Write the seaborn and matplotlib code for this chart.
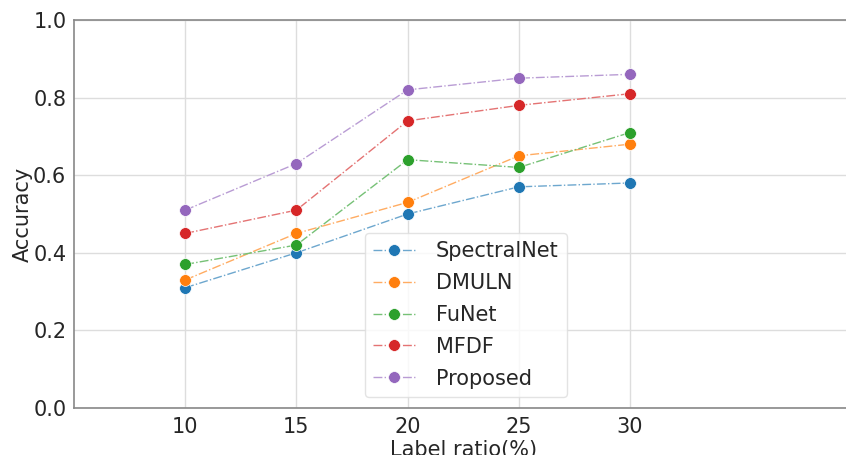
import matplotlib
matplotlib.use("Agg")
import matplotlib.pyplot as plt
import matplotlib.colors as mcolors
import seaborn as sns
import pandas as pd

ratios = [10, 15, 20, 25, 30]
methods = ["SpectralNet", "DMULN", "FuNet", "MFDF", "Proposed"]
spectralnet = [0.31, 0.40, 0.50, 0.57, 0.58]
dmuln = [0.33, 0.45, 0.53, 0.65, 0.68]
funet = [0.37, 0.42, 0.64, 0.62, 0.71]
mfdf = [0.45, 0.51, 0.74, 0.78, 0.81]
proposed = [0.51, 0.63, 0.82, 0.85, 0.86]

series = [spectralnet, dmuln, funet, mfdf, proposed]
rows = []
for m, vals in zip(methods, series):
    for r, v in zip(ratios, vals):
        rows.append({"ratio": r, "acc": v, "method": m})
df = pd.DataFrame(rows)

sns.set_style("white")
plt.rcParams['font.family'] = ['DejaVu Sans']

fig = plt.figure(figsize=(8.46, 4.55), dpi=100)
ax = fig.add_axes([74/846, 47/455, 778.5/846, 388/455])
ax.grid(True, color="#dddddd", linewidth=1.0)
ax.set_axisbelow(True)


def lighten(c, f=0.35):
    r, g, b = mcolors.to_rgb(c)
    return (r + (1 - r) * f, g + (1 - g) * f, b + (1 - b) * f)


palette = ["#1f77b4", "#ff7f0e", "#2ca02c", "#d62728", "#9467bd"]
for m, c in zip(methods, palette):
    sub = df[df["method"] == m]
    sns.lineplot(data=sub, x="ratio", y="acc", ax=ax, color=lighten(c), label=m,
                 linestyle="-.", linewidth=1.0, marker="o", markersize=8.5,
                 markerfacecolor=c, markeredgecolor="white", markeredgewidth=0.5)

ax.set_xlim(5, 40)
ax.set_ylim(0, 1.0)
ax.set_xticks(ratios)
ax.set_yticks([0.0, 0.2, 0.4, 0.6, 0.8, 1.0])
ax.set_yticklabels(["0.0", "0.2", "0.4", "0.6", "0.8", "1.0"])
ax.tick_params(labelsize=15, length=4, color="#888888")
ax.tick_params(axis="y", pad=1.5)
ax.tick_params(axis="x", pad=2.5)
ax.set_xlabel("Label ratio(%)", fontsize=15, labelpad=2)
ax.set_ylabel("Accuracy", fontsize=15, labelpad=0)
for s in ax.spines.values():
    s.set_color("#888888")
    s.set_linewidth(1.2)

handles, labels = ax.get_legend_handles_labels()
for h, c in zip(handles, palette):
    h.set_markerfacecolor(c)
leg = ax.legend(handles, labels, loc="lower left",
                bbox_to_anchor=((365-74)/778.5, (408-397)/388),
                borderaxespad=0,
                fontsize=15, frameon=True, handlelength=2.0, borderpad=0.4,
                labelspacing=0.57, handletextpad=1.0)
leg.get_frame().set_edgecolor("#dddddd")

fig.savefig("out.png", dpi=100)
